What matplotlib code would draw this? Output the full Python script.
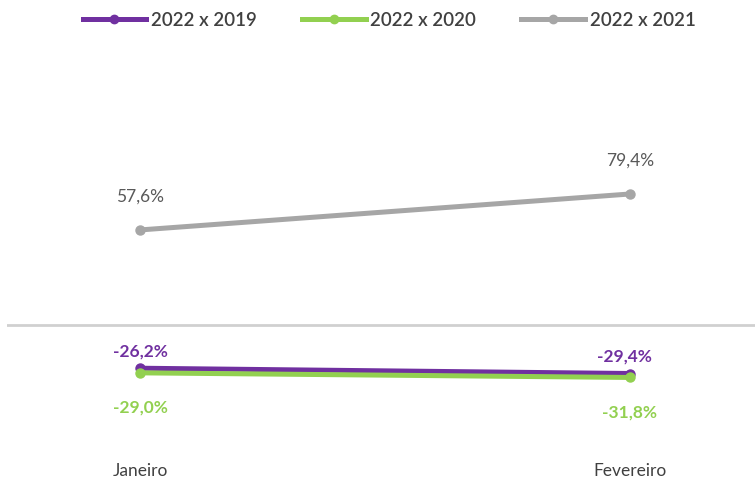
import matplotlib
matplotlib.use("Agg")
import matplotlib.pyplot as plt
from matplotlib.lines import Line2D

plt.rcParams['font.family'] = ['Lato', 'DejaVu Sans']

categories = ["Janeiro", "Fevereiro"]
series_names = ["2022 x 2019", "2022 x 2020", "2022 x 2021"]
v2019 = [-26.2, -29.4]
v2020 = [-29.0, -31.8]
v2021 = [57.6, 79.4]
labels2019 = ["-26,2%", "-29,4%"]
labels2020 = ["-29,0%", "-31,8%"]
labels2021 = ["57,6%", "79,4%"]

colors = ["#7030A0", "#92D050", "#A6A6A6"]
label_colors = ["#7030A0", "#92D050", "#595959"]

W, H = 755, 482
fig = plt.figure(figsize=(W / 100, H / 100), dpi=100)
# axes spanning pixel x 7..755, y 60..440
ax = fig.add_axes([7 / W, 1 - 440 / H, (755 - 7) / W, (440 - 60) / H])
ax.set_xlim(-0.2714, 1.2551)
ax.set_ylim(-69.7, 160.6)
for s in ax.spines.values():
    s.set_visible(False)
ax.set_xticks([])
ax.set_yticks([])
ax.axhline(0, color="#D0D0D0", lw=2, zorder=1)

x = list(range(len(categories)))
all_vals = [v2019, v2020, v2021]
all_labels = [labels2019, labels2020, labels2021]
order = [2, 0, 1]
for k, i in enumerate(order):
    ax.plot(x, all_vals[i], color=colors[i], lw=3.6, marker="o", ms=6.5,
            solid_capstyle="round", zorder=3 + k)

# data labels
offsets = [(0, 12), (0, -25), (0, 24)]
weights = ["bold", "bold", "normal"]
for i in range(3):
    for j in range(len(categories)):
        dx = -4 if (i == 0 and j == 1) else 0
        ax.annotate(all_labels[i][j], (x[j], all_vals[i][j]),
                    xytext=(offsets[i][0] + dx, offsets[i][1]), textcoords="offset points",
                    ha="center", va="center", fontsize=12.5,
                    color=label_colors[i], fontweight=weights[i])

# category labels
for j, c in enumerate(categories):
    ax.annotate(c, (x[j], -69.7), xytext=(0, -22), textcoords="offset points",
                ha="center", va="center", fontsize=12.5, color="#404040")

handles = [Line2D([0], [0], color=colors[i], lw=3.6, marker="o", ms=6) for i in range(3)]
leg = fig.legend(handles, series_names, loc="center", bbox_to_anchor=(389 / W, 1 - 20 / H),
                 ncol=3, frameon=False, fontsize=13.5, handlelength=3.4, columnspacing=2.4,
                 handletextpad=0.25)
for t in leg.get_texts():
    t.set_color("#404040")
    t.set_fontweight("semibold")

fig.savefig("out.png", dpi=100)
